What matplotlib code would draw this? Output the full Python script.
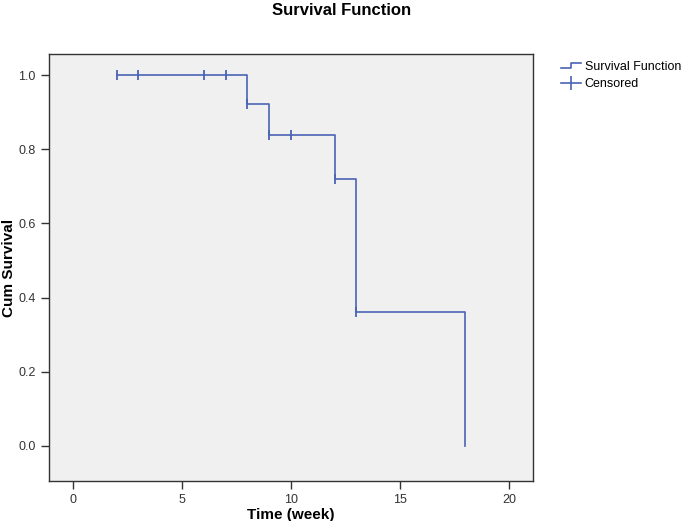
import numpy as np
import matplotlib
matplotlib.use('Agg')
import matplotlib.pyplot as plt
from matplotlib.lines import Line2D
from matplotlib.legend_handler import HandlerBase

plt.rcParams['font.family'] = ['Liberation Sans', 'DejaVu Sans']

# step curve: event times and survival after each event
event_t = [0, 8, 9, 12, 13, 18]
surv = [1.0, 0.923, 0.839, 0.719, 0.360, 0.0]
# censored observations
cens_t = [2, 3, 6, 7, 8, 9, 10, 12, 13]
cens_s = [1.0, 1.0, 1.0, 1.0, 0.923, 0.839, 0.839, 0.719, 0.360]

xticks = [0, 5, 10, 15, 20]
yticks = [0.0, 0.2, 0.4, 0.6, 0.8, 1.0]

blue = '#4a64b4'

fig = plt.figure(figsize=(6.83, 5.21), dpi=100)
ax = fig.add_axes([0.0717, 0.0768, 0.7087, 0.8195])
ax.set_facecolor('#f0f0f0')

# build step path from data, stop at the last event
xs, ys = [2], [surv[0]]
for t, s_prev, s in zip(event_t[1:], surv[:-1], surv[1:]):
    xs += [t, t]
    ys += [s_prev, s]
ax.plot(xs, ys, color=blue, lw=1.2)
ax.plot(cens_t, cens_s, ls='none', marker='|', ms=7, mew=1.3, color=blue)

ax.set_xlim(-1.1, 21.1)
ax.set_ylim(-0.095, 1.057)
ax.set_xticks(xticks)
ax.set_yticks(yticks)
ax.set_yticklabels(['%.1f' % v for v in yticks])
ax.tick_params(direction='out', length=6, width=1, labelsize=9, colors='#333333')
for sp in ax.spines.values():
    sp.set_color('#333333')
    sp.set_linewidth(1)

ax.set_xlabel('Time (week)', fontsize=11, fontweight='bold', labelpad=1)
ax.set_ylabel('Cum Survival', fontsize=11, fontweight='bold', labelpad=2)
fig.text(0.5, 0.995, 'Survival Function', ha='center', va='top',
         fontsize=12, fontweight='bold')


class StepHandler(HandlerBase):
    def create_artists(self, legend, orig, xd, yd, w, h, fontsize, trans):
        px = [xd, xd + w * 0.5, xd + w * 0.5, xd + w]
        py = [yd + h * 0.2, yd + h * 0.2, yd + h * 0.8, yd + h * 0.8]
        ln = Line2D(px, py, color=blue, lw=1.2, transform=trans)
        return [ln]


h1 = Line2D([], [], color=blue)
h2 = Line2D([], [], color=blue, lw=1.2, marker='|', ms=10, mew=1.2)
leg = fig.legend([h1, h2], ['Survival Function', 'Censored'],
                 loc='upper left', bbox_to_anchor=(0.812, 0.895),
                 frameon=False, fontsize=9, handlelength=1.6,
                 handletextpad=0.3, labelspacing=0.4, borderpad=0,
                 handler_map={h1: StepHandler()})

fig.savefig('out.png', dpi=100)
